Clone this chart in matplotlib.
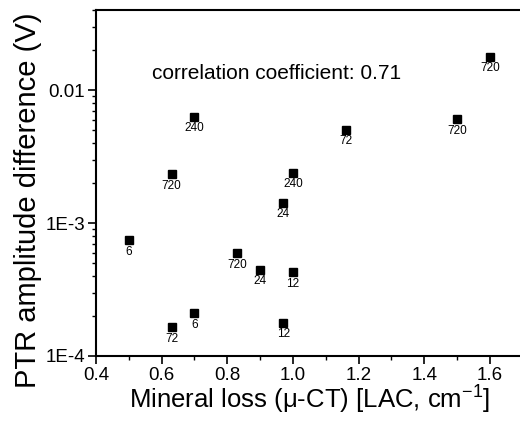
import math

import matplotlib.pyplot as plt
from matplotlib.ticker import FixedLocator, FuncFormatter, LogLocator, MultipleLocator

plt.rcParams["font.family"] = ["Liberation Sans", "DejaVu Sans"]
plt.rcParams["mathtext.default"] = "regular"

# mineral loss (LAC, cm^-1), PTR amplitude difference (V), demineralisation time (h)
mineral_loss = [0.50, 0.63, 0.63, 0.70, 0.70, 0.83, 0.90, 0.97, 0.97, 1.00, 1.00, 1.16, 1.50, 1.60]
ptr_amp_diff = [7.4e-4, 2.32e-3, 1.64e-4, 6.3e-3, 2.09e-4, 5.9e-4, 4.45e-4, 1.42e-3, 1.78e-4,
                2.39e-3, 4.25e-4, 5.05e-3, 6.05e-3, 1.78e-2]
hours = ["6", "720", "72", "240", "6", "720", "24", "24", "12", "240", "12", "72", "720", "720"]

corr_text = "correlation coefficient: 0.71"
ytick_names = {-4: "1E-4", -3: "1E-3", -2: "0.01"}

fig = plt.figure(figsize=(5.2, 4.21), dpi=100)
ax = fig.add_axes([96 / 520, 1 - 356 / 421, 426.8 / 520, 346 / 421])

ax.plot(mineral_loss, ptr_amp_diff, linestyle="none", marker="s", markersize=5.2,
        color="black")

for x, y, lab in zip(mineral_loss, ptr_amp_diff, hours):
    ax.annotate(lab, (x, y), xytext=(0, -11.5), textcoords="offset pixels",
                ha="center", va="center", fontsize=8.5)

ax.text(0.571, 0.0133, corr_text, fontsize=15, va="center", ha="left")

ax.set_yscale("log")
ax.set_xlim(0.4, 1.7)
ax.set_ylim(1e-4, 0.04)

ax.xaxis.set_major_locator(MultipleLocator(0.2))
ax.xaxis.set_minor_locator(MultipleLocator(0.1))
ax.xaxis.set_major_formatter(FuncFormatter(lambda v, p: f"{v:.1f}"))

ax.yaxis.set_major_locator(FixedLocator([1e-4, 1e-3, 1e-2]))
ax.yaxis.set_minor_locator(LogLocator(base=10, subs=range(2, 10)))
ax.yaxis.set_major_formatter(
    FuncFormatter(lambda v, p: ytick_names.get(round(math.log10(v)), ""))
)

ax.tick_params(which="major", direction="out", length=6, width=1.2, labelsize=13.5)
ax.tick_params(which="minor", direction="out", length=3, width=1.0)
ax.tick_params(axis="x", pad=2)
ax.tick_params(axis="y", pad=2)

for side in ax.spines.values():
    side.set_linewidth(1.5)

ax.set_xlabel("Mineral loss (\u03bc-CT) [LAC, cm$^{-1}$]", fontsize=18.5, labelpad=0)
ax.set_ylabel("PTR amplitude difference (V)", fontsize=21, labelpad=2)
ax.yaxis.label.set_y(0.45)

fig.savefig("out.png", dpi=100)
